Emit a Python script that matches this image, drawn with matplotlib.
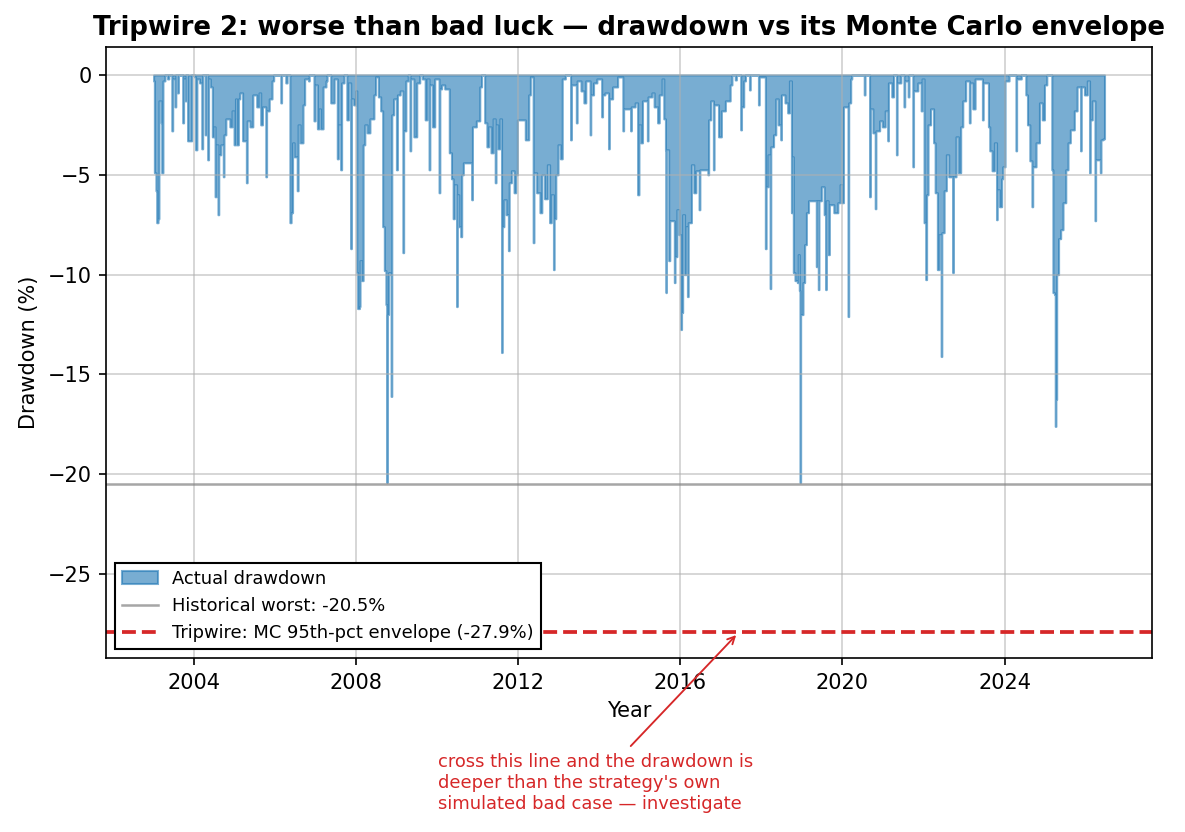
import pandas as pd
import matplotlib
matplotlib.use("Agg")
import matplotlib.pyplot as plt

# -------------------------
# Data (change points of the drawdown curve)
# -------------------------
dd_dates = [
    # 2003
    "2003-01-03", "2003-01-10", "2003-01-24", "2003-01-31", "2003-02-12", "2003-02-20", "2003-03-12", "2003-03-17",
    "2003-03-28", "2003-04-15", "2003-05-08", "2003-05-20", "2003-06-16", "2003-06-24", "2003-07-15", "2003-07-22",
    "2003-08-07", "2003-08-14", "2003-09-22", "2003-09-30", "2003-10-15", "2003-10-22", "2003-11-05", "2003-12-12",
    # 2004
    "2004-01-06", "2004-01-16", "2004-01-28", "2004-02-21", "2004-03-12", "2004-03-20", "2004-04-12", "2004-04-20",
    "2004-05-04", "2004-05-12", "2004-05-28", "2004-06-15", "2004-06-28", "2004-07-10", "2004-07-20", "2004-08-05",
    "2004-08-12", "2004-08-30", "2004-09-22", "2004-09-28", "2004-10-15", "2004-11-20", "2004-12-10", "2004-12-28",
    # 2005
    "2005-01-10", "2005-01-20", "2005-02-05", "2005-02-18", "2005-03-15", "2005-04-18", "2005-04-25", "2005-05-20",
    "2005-06-15", "2005-07-20", "2005-08-10", "2005-08-25", "2005-09-10", "2005-10-10", "2005-10-17", "2005-11-10",
    "2005-12-05", "2005-12-20",
    # 2006
    "2006-02-22", "2006-03-01", "2006-04-08", "2006-04-20", "2006-05-15", "2006-05-26", "2006-06-08", "2006-06-22",
    "2006-07-20", "2006-07-28", "2006-08-15", "2006-09-10", "2006-09-25", "2006-10-30", "2006-11-05", "2006-12-18",
    "2006-12-28",
    # 2007
    "2007-01-18", "2007-02-02", "2007-02-15", "2007-03-10", "2007-04-05", "2007-04-15", "2007-05-18", "2007-06-18",
    "2007-07-16", "2007-07-26", "2007-08-15", "2007-08-24", "2007-09-15", "2007-10-10", "2007-10-25", "2007-11-14",
    "2007-11-20", "2007-12-10", "2007-12-28",
    # 2008
    "2008-01-08", "2008-01-15", "2008-02-01", "2008-02-06", "2008-02-20", "2008-03-05", "2008-03-20", "2008-04-10",
    "2008-05-05", "2008-06-10", "2008-06-25", "2008-07-20", "2008-08-10", "2008-08-28", "2008-09-12", "2008-09-26",
    "2008-10-03", "2008-10-09", "2008-10-20", "2008-11-06", "2008-11-12", "2008-11-18", "2008-12-05", "2008-12-30",
    # 2009
    "2009-01-08", "2009-02-02", "2009-02-26", "2009-03-05", "2009-03-25", "2009-04-15", "2009-05-01", "2009-05-08",
    "2009-06-05", "2009-07-01", "2009-07-28", "2009-08-20", "2009-09-15", "2009-10-01", "2009-10-20", "2009-10-27",
    "2009-11-20", "2009-12-10",
    # 2010
    "2010-01-18", "2010-01-25", "2010-02-10", "2010-03-10", "2010-04-20", "2010-05-10", "2010-05-25", "2010-06-05",
    "2010-06-25", "2010-07-01", "2010-07-15", "2010-08-01", "2010-08-10", "2010-08-25", "2010-11-08", "2010-11-15",
    "2010-12-20",
    # 2011
    "2011-01-20", "2011-02-05", "2011-03-05", "2011-03-25", "2011-04-10", "2011-05-01", "2011-05-20", "2011-06-08",
    "2011-06-15", "2011-07-01", "2011-07-20", "2011-08-04", "2011-08-10", "2011-08-25", "2011-09-15", "2011-10-05",
    "2011-10-12", "2011-11-01", "2011-11-25", "2011-12-10", "2011-12-25",
    # 2012
    "2012-03-05", "2012-04-05", "2012-04-20", "2012-05-15", "2012-05-22", "2012-06-15", "2012-07-15", "2012-08-01",
    "2012-08-25", "2012-09-20", "2012-10-10", "2012-10-25", "2012-11-14", "2012-11-20", "2012-12-05", "2012-12-25",
    # 2013
    "2013-01-15", "2013-02-01", "2013-03-01", "2013-04-17", "2013-04-24", "2013-06-08", "2013-06-15", "2013-07-20",
    "2013-08-15", "2013-09-01", "2013-10-10", "2013-10-16", "2013-11-10", "2013-12-10",
    # 2014
    "2014-01-22", "2014-01-30", "2014-02-20", "2014-03-25", "2014-04-01", "2014-05-01", "2014-06-15", "2014-08-01",
    "2014-08-08", "2014-10-10", "2014-10-16", "2014-11-20", "2014-12-12", "2014-12-24",
    # 2015
    "2015-01-10", "2015-01-25", "2015-03-10", "2015-03-16", "2015-04-20", "2015-05-10", "2015-06-10", "2015-06-25",
    "2015-07-20", "2015-08-05", "2015-08-20", "2015-08-24", "2015-08-28", "2015-09-18", "2015-09-28", "2015-11-08",
    "2015-11-14", "2015-12-01", "2015-12-20",
    # 2016
    "2016-01-05", "2016-01-12", "2016-01-22", "2016-02-08", "2016-02-20", "2016-03-05", "2016-03-12", "2016-04-10",
    "2016-05-01", "2016-05-20", "2016-06-18", "2016-06-25", "2016-09-05", "2016-09-12", "2016-10-01", "2016-10-25",
    "2016-10-31", "2016-12-10",
    # 2017
    "2017-01-05", "2017-02-10", "2017-03-25", "2017-04-10", "2017-05-10", "2017-05-20", "2017-06-28", "2017-07-05",
    "2017-07-25", "2017-08-10", "2017-09-15", "2017-09-22", "2017-12-05", "2017-12-12",
    # 2018
    "2018-02-05", "2018-02-12", "2018-03-01", "2018-03-20", "2018-03-26", "2018-04-20", "2018-05-10", "2018-06-01",
    "2018-06-24", "2018-06-30", "2018-08-01", "2018-08-25", "2018-09-10", "2018-09-28", "2018-10-05", "2018-10-15",
    "2018-10-30", "2018-11-20", "2018-11-28", "2018-12-08", "2018-12-14", "2018-12-20",
    # 2019
    "2019-01-10", "2019-01-25", "2019-02-10", "2019-03-01", "2019-05-10", "2019-05-17", "2019-05-28", "2019-06-03",
    "2019-06-25", "2019-07-20", "2019-08-02", "2019-08-08", "2019-08-25", "2019-09-05", "2019-10-15", "2019-11-20",
    "2019-12-10", "2019-12-28",
    # 2020
    "2020-01-10", "2020-02-20", "2020-02-26", "2020-03-15", "2020-03-25", "2020-07-15", "2020-07-22", "2020-09-01",
    "2020-09-08", "2020-10-01", "2020-10-22", "2020-10-28", "2020-12-01", "2020-12-25",
    # 2021
    "2021-01-20", "2021-02-12", "2021-02-18", "2021-03-20", "2021-04-05", "2021-05-01", "2021-05-07", "2021-06-10",
    "2021-07-08", "2021-07-15", "2021-08-15", "2021-08-22", "2021-09-26", "2021-10-02", "2021-11-10", "2021-12-10",
    "2021-12-18",
    # 2022
    "2022-01-05", "2022-01-20", "2022-01-28", "2022-02-10", "2022-03-05", "2022-04-01", "2022-04-15", "2022-05-05",
    "2022-05-20", "2022-06-08", "2022-06-14", "2022-07-05", "2022-07-25", "2022-08-15", "2022-09-20", "2022-09-26",
    "2022-10-20", "2022-11-10", "2022-12-01", "2022-12-20",
    # 2023
    "2023-01-15", "2023-02-17", "2023-02-24", "2023-03-20", "2023-04-10", "2023-06-15", "2023-06-22", "2023-08-08",
    "2023-08-20", "2023-09-10", "2023-10-01", "2023-10-20", "2023-10-26", "2023-11-15", "2023-12-05", "2023-12-15",
    # 2024
    "2024-01-05", "2024-02-10", "2024-04-12", "2024-04-18", "2024-05-30", "2024-07-10", "2024-07-25", "2024-08-15",
    "2024-09-03", "2024-09-10", "2024-10-10", "2024-11-10", "2024-12-05", "2024-12-25",
    # 2025
    "2025-01-15", "2025-03-01", "2025-03-11", "2025-03-25", "2025-04-01", "2025-04-07", "2025-04-14", "2025-05-01",
    "2025-05-20", "2025-06-10", "2025-07-05", "2025-07-25", "2025-08-15", "2025-09-20", "2025-10-15", "2025-11-15",
    "2025-11-21", "2025-12-20",
    # 2026
    "2026-01-15", "2026-02-04", "2026-02-10", "2026-03-01", "2026-03-25", "2026-03-31", "2026-05-12", "2026-05-18",
    "2026-06-05", "2026-06-19",
]

dd_pct = [
    # 2003
    -0.3, -4.9, -5.8, -7.4, -7.2, -1.3, -2.4, -4.9,
    -0.3, 0.0, -0.2, 0.0, -2.8, -0.2, -1.6, 0.0,
    -0.9, 0.0, -2.4, -0.2, -1.3, 0.0, -3.3, 0.0,
    # 2004
    -0.1, -3.75, -0.2, -0.4, -3.7, 0.0, -3.0, 0.0,
    -4.25, -0.2, -0.6, -3.1, -2.6, -6.1, -3.5, -7.0,
    -4.0, -3.5, -5.1, -3.0, -2.2, -2.6, -1.8, -3.5,
    # 2005
    -1.2, -3.5, -1.2, -0.9, -3.3, -5.4, -2.3, -2.6,
    -1.0, -1.6, -0.9, -2.5, -1.6, -5.1, -1.8, -1.2,
    -0.3, 0.0,
    # 2006
    -1.4, 0.0, -0.4, 0.0, -7.4, -6.9, -3.4, -4.1,
    -5.8, -2.5, -3.4, -1.5, -0.2, -0.3, 0.0, -2.3,
    -0.5,
    # 2007
    -2.7, -1.7, -2.7, -0.6, -0.3, 0.0, -1.4, -0.2,
    -4.2, -2.5, -4.75, -0.4, 0.0, -2.25, -0.4, -8.7,
    -1.2, -1.5, -0.8,
    # 2008
    -9.9, -11.7, -11.6, -9.3, -10.3, -3.5, -2.5, -2.9,
    -2.2, -1.0, -0.1, -1.1, -1.8, -7.6, -9.8, -11.5,
    -20.4, -12.0, -9.9, -10.0, -16.1, -2.0, -1.2, -4.75,
    # 2009
    -1.0, -0.8, -8.9, -2.8, -0.3, 0.0, -3.8, -0.2,
    -3.1, -0.4, 0.0, -0.2, -2.25, -0.2, -4.75, -0.5,
    -2.6, -0.2,
    # 2010
    -5.9, -0.7, -0.5, -0.7, -3.9, -5.2, -7.2, -5.5,
    -11.6, -6.0, -7.6, -8.1, -5.0, -4.4, -6.25, -2.6,
    -2.3,
    # 2011
    -0.6, 0.0, -2.4, -3.6, -2.6, -3.9, -2.2, -5.4,
    -2.5, -3.7, -2.2, -13.9, -7.6, -6.25, -7.0, -8.8,
    -5.4, -4.8, -5.9, -5.0, -2.25,
    # 2012
    -3.25, -1.0, -0.1, -8.4, -4.9, -5.9, -6.9, -5.0,
    -6.2, -4.5, -7.4, -6.0, -9.75, -7.2, -5.0, -3.5,
    # 2013
    -4.2, -0.2, 0.0, -3.25, -0.5, -2.4, -0.3, -0.8,
    -1.4, -0.3, -3.0, -1.0, -0.4, -0.2,
    # 2014
    -2.1, -1.0, -0.9, -3.7, -1.2, -0.6, -0.1, -2.8,
    -1.7, -2.8, -1.6, -1.4, -6.0, -2.5,
    # 2015
    -3.4, -1.3, -3.3, -1.1, -0.9, -1.6, -2.4, -1.0,
    -0.2, -2.2, -3.75, -10.9, -3.75, -9.3, -7.3, -10.4,
    -9.1, -6.75, -8.0,
    # 2016
    -12.75, -11.9, -7.0, -10.0, -7.6, -11.1, -7.4, -4.5,
    -5.9, -4.8, -6.75, -4.75, -5.0, -2.25, -1.3, -4.75,
    -1.5, -3.1,
    # 2017
    -1.8, -1.3, -0.5, 0.0, -0.25, 0.0, -2.75, -1.6,
    -0.3, 0.0, -0.75, 0.0, -1.5, -0.1,
    # 2018
    -8.7, -5.6, -4.0, -10.7, -3.6, -3.0, -1.2, -2.5,
    -3.25, -1.0, -1.4, -1.9, -0.3, -6.9, -4.1, -9.9,
    -10.3, -10.4, -9.0, -10.8, -20.4, -12.0,
    # 2019
    -10.4, -8.5, -6.9, -6.3, -9.6, -6.3, -10.75, -6.3,
    -5.6, -7.0, -10.75, -6.3, -9.0, -6.5, -6.9, -6.4,
    -5.5, -6.4,
    # 2020
    -1.6, -12.1, -1.4, -0.2, 0.0, -1.0, 0.0, -6.1,
    -1.7, -2.9, -6.7, -2.8, -2.3, -2.6,
    # 2021
    -1.8, -3.3, -0.4, -1.1, 0.0, -4.0, -0.4, 0.0,
    -1.6, -0.3, -1.1, 0.0, -4.6, -0.8, -0.4, -1.8,
    -0.2,
    # 2022
    -7.4, -10.25, -6.0, -2.5, -1.7, -3.4, -5.9, -9.75,
    -8.0, -14.1, -7.9, -5.8, -4.0, -5.1, -9.9, -5.1,
    -3.1, -4.9, -2.6, -1.3,
    # 2023
    -0.3, -2.4, -0.4, -1.7, -0.2, -2.25, -0.4, -2.6,
    -3.8, -4.8, -3.4, -7.25, -5.75, -6.6, -5.2, -4.6,
    # 2024
    -0.3, 0.0, -3.8, -0.2, 0.0, -1.0, -2.5, -4.3,
    -6.6, -4.6, -3.4, -1.4, -2.25, -0.5,
    # 2025
    0.0, -4.75, -10.9, -11.0, -17.6, -16.25, -10.0, -8.2,
    -7.75, -6.4, -4.75, -3.4, -2.75, -1.8, -0.6, -3.8,
    -0.6, -1.0,
    # 2026
    -0.3, -4.9, -2.25, -1.3, -7.3, -4.25, -4.9, -3.25,
    -3.2, -3.2,
]

hist_worst = -20.5
tripwire = -27.9
arrow_date = "2017-06-13"
note = ("cross this line and the drawdown is\n"
        "deeper than the strategy's own\n"
        "simulated bad case \u2014 investigate")

assert len(dd_dates) == len(dd_pct), (len(dd_dates), len(dd_pct))
dates = pd.to_datetime(dd_dates)

# -------------------------
# Plotting
# -------------------------
fig = plt.figure(figsize=(1185 / 150, 832 / 150), dpi=150)
ax = fig.add_axes([0.0895, 0.2091, 0.8827, 0.7344])

ax.fill_between(dates, dd_pct, 0, step="post", color="tab:blue", alpha=0.6,
                label="Actual drawdown")
ax.axhline(hist_worst, color="grey", alpha=0.7, lw=1.2,
           label=f"Historical worst: {hist_worst:.1f}%")
ax.axhline(tripwire, color="tab:red", ls="--", lw=1.8,
           label=f"Tripwire: MC 95th-pct envelope ({tripwire:.1f}%)")

ax.annotate(note, xy=(pd.Timestamp(arrow_date), tripwire),
            xytext=(0.468, -0.2046), textcoords="axes fraction",
            ha="center", va="center", ma="left", fontsize=8.6, color="tab:red",
            arrowprops=dict(arrowstyle="->", color="tab:red", lw=0.9))

ax.set_ylim(-29.2, 1.4)
ax.grid(True, alpha=0.6)
ax.set_title("Tripwire 2: worse than bad luck \u2014 drawdown vs its Monte Carlo envelope",
             fontsize=12.5, fontweight="bold")
ax.set_xlabel("Year")
ax.set_ylabel("Drawdown (%)")
ax.legend(loc="lower left", fontsize=8.6, fancybox=False, edgecolor="black", framealpha=1)

fig.savefig("out.png", dpi=150)
